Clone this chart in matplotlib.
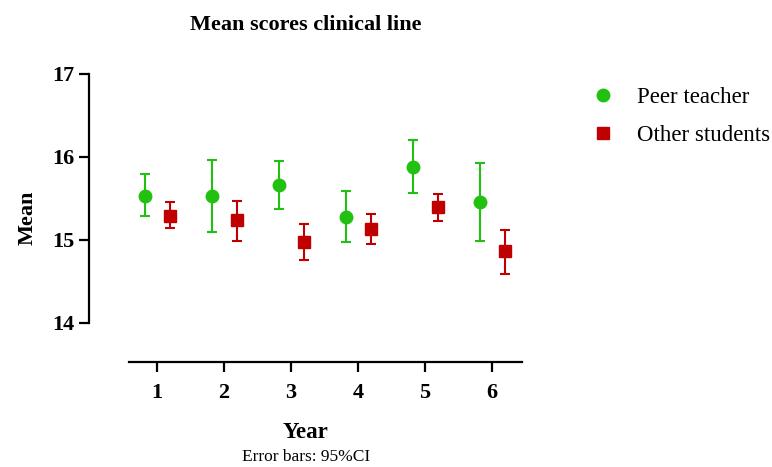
import matplotlib.pyplot as plt
import numpy as np

plt.rcParams['font.family'] = ['Liberation Serif', 'DejaVu Serif']

years = [1, 2, 3, 4, 5, 6]

peer_mean = [15.53, 15.53, 15.66, 15.28, 15.88, 15.46]
peer_low = [15.29, 15.10, 15.37, 14.97, 15.56, 14.99]
peer_high = [15.79, 15.96, 15.95, 15.59, 16.20, 15.93]

other_mean = [15.29, 15.24, 14.98, 15.13, 15.39, 14.86]
other_low = [15.14, 14.99, 14.76, 14.95, 15.23, 14.59]
other_high = [15.45, 15.47, 15.19, 15.31, 15.55, 15.12]

green = '#22c111'
red = '#c00000'

fig = plt.figure(figsize=(7.72, 4.67), dpi=100)
ax = fig.add_axes([0.115, 0.225, 0.561, 0.617])

x = np.array(years)
pm = np.array(peer_mean)
om = np.array(other_mean)
peer_err = [pm - np.array(peer_low), np.array(peer_high) - pm]
other_err = [om - np.array(other_low), np.array(other_high) - om]

ax.errorbar(x - 0.18, pm, yerr=peer_err, fmt='o', color=green, ms=9,
            elinewidth=1.5, capsize=3.5, capthick=1.5, label='Peer teacher')
ax.errorbar(x + 0.2, om, yerr=other_err, fmt='s', color=red, ms=8.5,
            elinewidth=1.5, capsize=3.5, capthick=1.5, label='Other students')

ax.set_xlim(-0.02, 6.45)
ax.set_ylim(13.53, 17.0)
ax.set_yticks([14, 15, 16, 17])
ax.set_xticks(years)

for s in ['top', 'right']:
    ax.spines[s].set_visible(False)
ax.spines['left'].set_bounds(14, 17)
ax.spines['bottom'].set_bounds(0.58, 6.45)
ax.spines['left'].set_linewidth(1.6)
ax.spines['bottom'].set_linewidth(1.6)
ax.tick_params(width=1.6, length=7, labelsize=16)
ax.tick_params(axis='x', pad=8)
for lab in ax.get_xticklabels() + ax.get_yticklabels():
    lab.set_fontweight('bold')

ax.set_ylabel('Mean', fontsize=16, fontweight='bold', labelpad=10)
ax.set_xlabel('Year', fontsize=16.5, fontweight='bold', labelpad=14)
fig.text(0.396, 0.012, 'Error bars: 95%CI', ha='center', fontsize=12.5)
fig.text(0.396, 0.935, 'Mean scores clinical line', ha='center',
         fontsize=16, fontweight='bold')

handles, labels = ax.get_legend_handles_labels()
handles = [h[0] for h in handles]
fig.legend(handles, labels, loc='upper left', bbox_to_anchor=(0.736, 0.858),
           frameon=False, fontsize=16.5, handletextpad=0.9, labelspacing=0.75,
           handlelength=1.2)

plt.savefig('out.png', dpi=100)
